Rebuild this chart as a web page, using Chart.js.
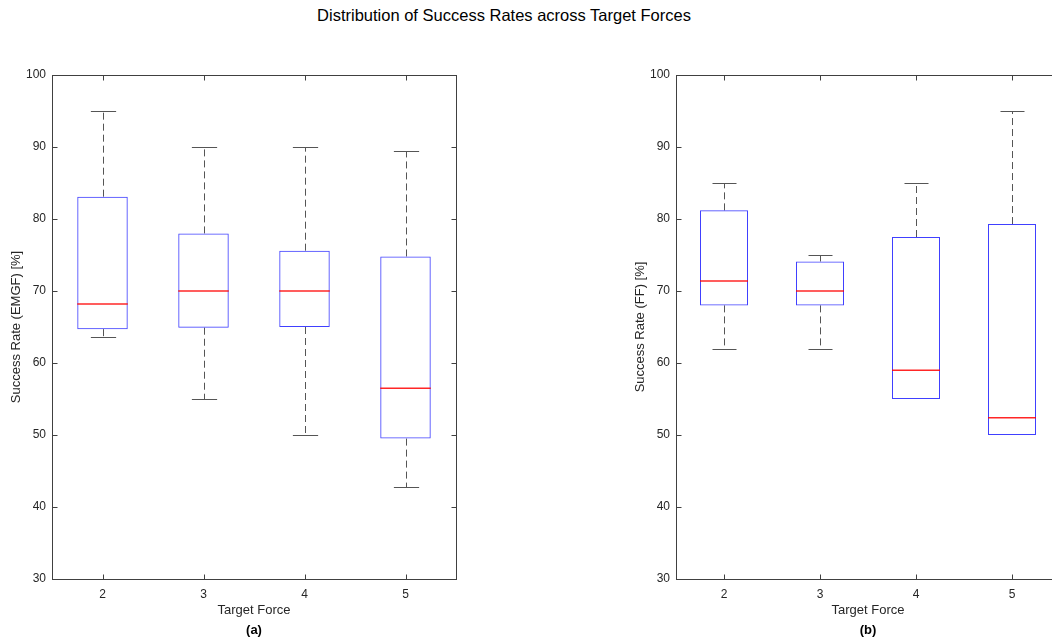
<!DOCTYPE html>
<html>
<head>
<meta charset="utf-8">
<script src="https://cdn.jsdelivr.net/npm/chart.js@4/dist/chart.umd.min.js"></script>
<style>
  html, body { margin: 0; padding: 0; background: #fff; }
  body { width: 1052px; height: 639px; overflow: hidden; position: relative; font-family: "Liberation Sans", Arial, sans-serif; }
  #title { position: absolute; top: 5px; left: 0; width: 1008px; line-height: 20px; text-align: center; font-size: 16.5px; color: #000; }
  canvas { position: absolute; top: 0; }
  #chartA { left: 0; }
  #chartB { left: 624px; }
</style>
</head>
<body>
<div id="title">Distribution of Success Rates across Target Forces</div>
<canvas id="chartA" width="480" height="639"></canvas>
<canvas id="chartB" width="452" height="639"></canvas>
<script>
// box plot stats
var targetForces = ['2', '3', '4', '5'];

var emgfLower  = [63.6, 55.0, 50.0, 42.8];
var emgfQ1     = [64.7, 64.9, 65.0, 49.5];
var emgfMedian = [68.2, 70.0, 70.0, 56.5];
var emgfQ3     = [83.1, 78.0, 75.6, 74.8];
var emgfUpper  = [95.0, 90.0, 90.0, 89.5];

var ffLower  = [61.9, 61.9, 55.0, 50.0];
var ffQ1     = [68.0, 68.0, 55.0, 50.0];
var ffMedian = [71.4, 70.0, 59.0, 52.4];
var ffQ3     = [81.2, 74.1, 77.5, 79.3];
var ffUpper  = [85.0, 75.0, 85.0, 95.0];

var yMin = 30, yMax = 100, yStep = 10;

var textColor = '#262626';
var axisColor = '#404040';
var boxColor = 'rgba(0,0,255,0.75)';
var medianColor = 'rgba(255,0,0,0.85)';
var whiskerColor = '#555555';

function line(ctx, x1, y1, x2, y2)
{
    ctx.beginPath();
    ctx.moveTo(x1, y1);
    ctx.lineTo(x2, y2);
    ctx.stroke();
}

// whiskers + caps go under the boxes, medians + axes box on top
var boxPlot = {
    id: 'boxPlot',
    beforeDatasetsDraw: function(chart, args, opts)
    {
        var ctx = chart.ctx, x = chart.scales.x, y = chart.scales.y;
        var capHalf = (x.getPixelForValue(1) - x.getPixelForValue(0)) / 8;
        ctx.save();
        ctx.strokeStyle = whiskerColor;
        ctx.lineWidth = 1;
        for (var i = 0; i < opts.median.length; i++)
        {
            var cx = Math.round(x.getPixelForValue(i)) + 0.5;
            var yUp = Math.round(y.getPixelForValue(opts.upper[i])) + 0.5;
            var yQ3 = y.getPixelForValue(opts.q3[i]);
            var yQ1 = y.getPixelForValue(opts.q1[i]);
            var yLo = Math.round(y.getPixelForValue(opts.lower[i])) + 0.5;
            if (opts.upper[i] > opts.q3[i])
            {
                ctx.setLineDash([7, 4]);
                line(ctx, cx, yQ3, cx, yUp);
                ctx.setLineDash([]);
                line(ctx, cx - capHalf, yUp, cx + capHalf, yUp);
            }
            if (opts.lower[i] < opts.q1[i])
            {
                ctx.setLineDash([7, 4]);
                line(ctx, cx, yQ1, cx, yLo);
                ctx.setLineDash([]);
                line(ctx, cx - capHalf, yLo, cx + capHalf, yLo);
            }
        }
        ctx.restore();
    },
    afterDatasetsDraw: function(chart, args, opts)
    {
        var ctx = chart.ctx, x = chart.scales.x, y = chart.scales.y;
        var boxHalf = (x.getPixelForValue(1) - x.getPixelForValue(0)) / 4;
        ctx.save();
        ctx.strokeStyle = medianColor;
        ctx.lineWidth = 1.5;
        for (var i = 0; i < opts.median.length; i++)
        {
            var cx = x.getPixelForValue(i);
            var ym = y.getPixelForValue(opts.median[i]);
            line(ctx, cx - boxHalf, ym, cx + boxHalf, ym);
        }

        // axes frame with inward ticks
        var a = chart.chartArea;
        var l = Math.round(a.left) + 0.5, r = Math.round(a.right) + 0.5;
        var t = Math.round(a.top) + 0.5, b = Math.round(a.bottom) + 0.5;
        ctx.lineWidth = 1;
        ctx.strokeStyle = axisColor;
        ctx.strokeRect(l, t, r - l, b - t);
        var tick = 5;
        for (var v = yMin; v <= yMax; v += yStep)
        {
            var py = Math.round(y.getPixelForValue(v)) + 0.5;
            line(ctx, l, py, l + tick, py);
            line(ctx, r, py, r - tick, py);
        }
        for (var k = 0; k < opts.median.length; k++)
        {
            var px = Math.round(x.getPixelForValue(k)) + 0.5;
            line(ctx, px, b, px, b - tick);
            line(ctx, px, t, px, t + tick);
        }

        // panel caption under the x title
        ctx.fillStyle = '#000';
        ctx.font = 'bold 13px "Liberation Sans", Arial, sans-serif';
        ctx.textAlign = 'center';
        ctx.textBaseline = 'middle';
        ctx.fillText(opts.caption, (a.left + a.right) / 2, 630);
        ctx.restore();
    }
};

function makeBoxChart(canvasId, yLabel, caption, lower, q1, median, q3, upper, rightPad)
{
    var boxes = [];
    for (var i = 0; i < q1.length; i++) boxes.push([q1[i], q3[i]]);

    var tickFont = { family: '"Liberation Sans", Arial, sans-serif', size: 12 };
    var titleFont = { family: '"Liberation Sans", Arial, sans-serif', size: 13 };

    return new Chart(document.getElementById(canvasId).getContext('2d'), {
        type: 'bar',
        data: {
            labels: targetForces,
            datasets: [{
                data: boxes,
                backgroundColor: 'rgba(0,0,0,0)',
                borderColor: boxColor,
                borderWidth: 1,
                borderSkipped: false,
                barPercentage: 0.5,
                categoryPercentage: 1.0
            }]
        },
        options: {
            responsive: false,
            animation: false,
            events: [],
            layout: { padding: { top: 75, right: rightPad, left: 0, bottom: 0 } },
            plugins: {
                legend: { display: false },
                tooltip: { enabled: false },
                boxPlot: { lower: lower, q1: q1, median: median, q3: q3, upper: upper, caption: caption }
            },
            scales: {
                x: {
                    grid: { display: false, drawTicks: false },
                    border: { display: false },
                    ticks: { color: textColor, font: tickFont, padding: 8 },
                    title: { display: true, text: 'Target Force', color: textColor, font: titleFont, padding: { top: 0, bottom: 21 } },
                    afterFit: function(scale) { scale.height = 60; }
                },
                y: {
                    min: yMin,
                    max: yMax,
                    grid: { display: false, drawTicks: false },
                    border: { display: false },
                    ticks: { stepSize: yStep, color: textColor, font: tickFont, padding: 6 },
                    title: { display: true, text: yLabel, color: textColor, font: titleFont, padding: { top: 9, bottom: 0 } },
                    afterFit: function(scale) { scale.width = 52; }
                }
            }
        },
        plugins: [boxPlot]
    });
}

var chartA = makeBoxChart('chartA', 'Success Rate (EMGF) [%]', '(a)', emgfLower, emgfQ1, emgfMedian, emgfQ3, emgfUpper, 24);
var chartB = makeBoxChart('chartB', 'Success Rate (FF) [%]', '(b)', ffLower, ffQ1, ffMedian, ffQ3, ffUpper, 16);
</script>
</body>
</html>
